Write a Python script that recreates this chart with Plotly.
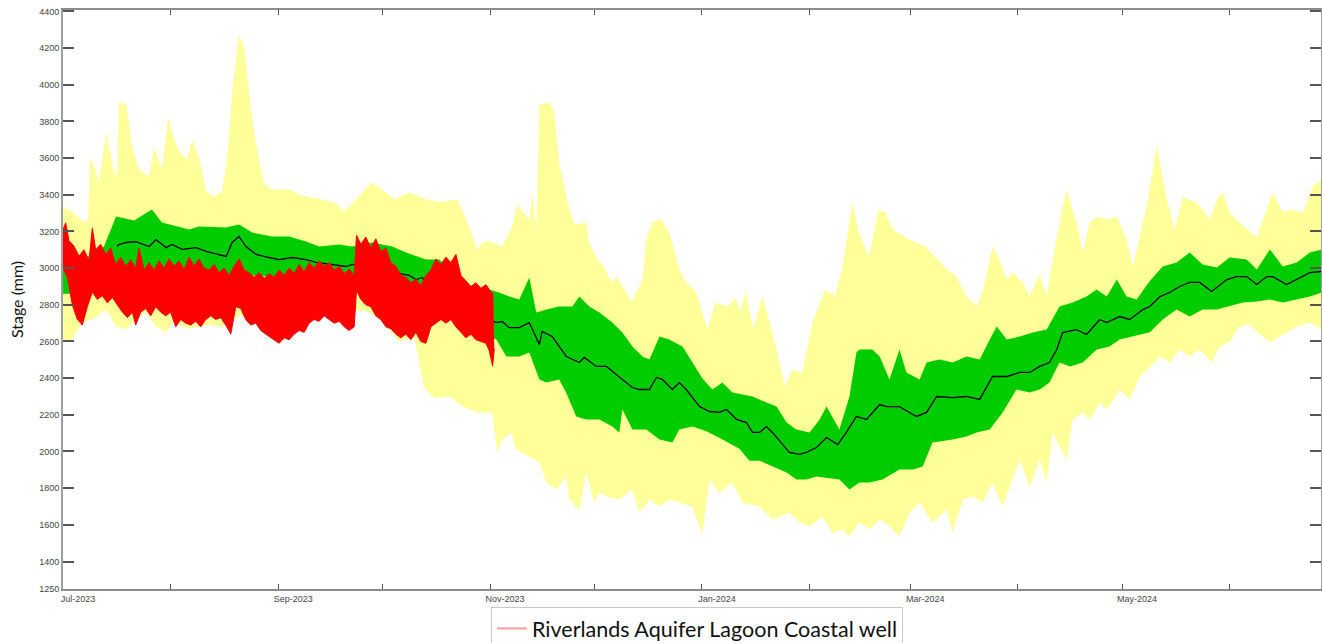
import pandas as pd
import plotly.graph_objects as go

# ---------------- data (days since 2023-07-01, stage in mm) ----------------
START = "2023-07-01"

yu_days = [0, 3.2, 6.1, 7.2, 7.8, 8.9, 10.4, 12.4, 14.7, 15.6, 16.1, 18.2, 19.9, 21.9, 23.3, 24.8, 26.2, 28.5,
           30.3, 31.4, 33.4, 35.7, 37.2, 39.2, 41.2, 43.5, 45.8, 47.3, 48.7, 50.7, 52.2, 54.2, 55.9, 57.9, 59.9,
           65.1, 68.0, 73.8, 78.1, 81.0, 84.7, 88.8, 92.5, 95.4, 99.7, 104.0, 108.4, 113.5, 116.4, 119.3, 121.3,
           123.6, 126.5, 129.4, 130.8, 132.3, 134.3, 135.2, 136.3, 137.2, 140.1, 141.5, 142.9, 145.8, 147.3,
           150.7, 151.6, 153.9, 155.3, 158.2, 159.4, 162.2, 163.7, 165.1, 166.9, 168.0, 169.7, 172.3, 174.6,
           177.5, 179.5, 182.4, 185.6, 187.9, 191.6, 193.7, 195.0, 196.5, 198.8, 201.4, 204.3, 207.9, 210.0,
           212.9, 215.8, 219.5, 222.4, 224.5, 227.4, 229.1, 232.1, 234.9, 236.9, 238.9, 243.5, 248.4, 254.5,
           257.3, 260.2, 263.1, 264.8, 267.7, 269.7, 271.8, 273.5, 276.4, 278.4, 281.3, 283.3, 286.2, 289.0,
           291.9, 293.7, 295.7, 297.7, 300.6, 303.5, 306.3, 308.1, 310.1, 312.1, 315.0, 317.9, 320.2, 322.5,
           326.5, 330.3, 332.3, 334.0, 336.0, 338.9, 343.8, 348.4, 351.3, 354.2, 357.1, 359.9, 362.5]
yu_vals = [3340, 3300, 3250, 3260, 3600, 3560, 3473, 3740, 3520, 3500, 3903, 3893, 3664, 3538, 3520, 3500, 3658, 3538,
           3827, 3740, 3636, 3592, 3700, 3600, 3420, 3390, 3420, 3600, 3950, 4274, 4200, 3850, 3647, 3460, 3430,
           3429, 3400, 3375, 3360, 3310, 3380, 3467, 3420, 3375, 3413, 3380, 3360, 3375, 3250, 3100, 3150,
           3140, 3118, 3227, 3347, 3309, 3265, 3402, 3200, 3893, 3903, 3849, 3576, 3320, 3238,
           3249, 3140, 3047, 3020, 2922, 2954, 2867, 2812, 2867, 2938, 3156, 3254, 3265, 3194,
           2993, 2922, 2867, 2665, 2812, 2791, 2840, 2758, 2873, 2665, 2845, 2649, 2355, 2447,
           2431, 2703, 2884, 2845, 3009, 3358, 3194, 3064, 3320, 3303, 3211, 3156, 3118, 2993,
           2954, 2845, 2791, 2867, 3118, 3047, 2938, 2976, 2922, 2845, 2965, 2845, 3173, 3429,
           3249, 3085, 3249, 3282, 3265, 3282, 3156, 3009, 3173, 3336, 3670, 3375, 3211, 3385,
           3358, 3265, 3375, 3413, 3303, 3249, 3167, 3413, 3303, 3320, 3303, 3445, 3484]

yl_days = [0, 2.6, 5.5, 8.4, 12.4, 15.3, 18.2, 21.0, 23.9, 26.8, 29.7, 31.4, 36.3, 42.1, 46.4, 50.7, 55.0, 59.4,
           65.1, 70.9, 74.6, 79.5, 83.9, 88.2, 92.5, 96.8, 101.2, 104.0, 106.9, 111.2, 115.6, 119.9, 123.6, 125.1,
           126.5, 129.1, 130.5, 134.3, 137.2, 139.2, 142.1, 145.0, 145.8, 148.7, 150.7, 153.0, 154.5, 156.5,
           160.2, 164.0, 166.0, 168.9, 171.8, 174.6, 177.5, 181.3, 184.1, 186.2, 189.0, 192.8, 195.7, 200.6,
           204.3, 209.2, 212.1, 215.0, 218.7, 221.6, 224.5, 226.5, 229.4, 232.3, 235.2, 238.0, 240.9, 243.8,
           246.7, 250.4, 254.5, 256.2, 259.1, 262.0, 264.8, 267.7, 270.6, 273.5, 275.5, 278.4, 281.3, 283.3,
           285.0, 289.0, 290.8, 293.7, 295.7, 298.6, 300.6, 304.3, 307.2, 310.1, 313.0, 315.9, 318.7, 321.6,
           324.5, 327.4, 330.8, 333.1, 336.0, 338.9, 341.8, 344.7, 347.6, 351.3, 355.3, 359.1, 362.5]
yl_vals = [2595, 2611, 2703, 2720, 2774, 2682, 2665, 2720, 2758, 2682, 2649, 2703, 2670, 2690, 2680, 2740, 2720, 2680,
           2700, 2740, 2758, 2700, 2774, 2760, 2700, 2600, 2620, 2350, 2290, 2300, 2240, 2213, 2213, 1995,
           2065, 2104, 2011, 1973, 1940, 1831, 1793, 1864, 1738, 1684, 1886, 1722, 1776, 1755,
           1738, 1793, 1667, 1738, 1700, 1738, 1722, 1700, 1545, 1847, 1776, 1831, 1722, 1700,
           1629, 1667, 1613, 1591, 1645, 1558, 1575, 1536, 1613, 1575, 1629, 1591, 1536, 1667,
           1722, 1613, 1684, 1558, 1738, 1755, 1722, 1831, 1700, 1847, 1956, 1809, 1956, 1831,
           2104, 1956, 2175, 2213, 2175, 2267, 2229, 2338, 2284, 2409, 2460, 2518, 2485, 2556,
           2518, 2556, 2485, 2573, 2600, 2682, 2693, 2638, 2595, 2638, 2682, 2703, 2665]

gu_days = [0, 4.6, 8.9, 11.8, 15.3, 20.5, 25.6, 28.5, 36.3, 39.2, 47.0, 50.7, 54.5, 60.2, 65.1, 70.0, 73.8, 79.5,
           83.3, 89.0, 94.8, 98.8, 104.6, 108.4, 114.1, 117.9, 122.8, 125.6, 128.5, 131.4, 134.3, 136.3, 139.2,
           142.9, 146.7, 148.7, 151.6, 154.5, 158.2, 161.1, 164.0, 166.9, 168.9, 171.8, 174.6, 178.4, 181.3,
           184.1, 187.0, 189.9, 192.8, 195.7, 198.6, 202.6, 205.5, 208.4, 211.2, 215.0, 217.9, 219.9, 221.6,
           223.6, 226.5, 228.5, 229.4, 233.1, 235.2, 238.0, 240.9, 242.9, 246.7, 248.7, 252.4, 256.2, 260.2,
           264.0, 266.9, 268.9, 271.8, 275.5, 279.3, 283.3, 287.0, 290.8, 294.8, 297.7, 300.6, 303.5, 306.3,
           309.2, 313.0, 316.7, 320.7, 324.5, 328.2, 332.3, 336.0, 340.9, 343.8, 347.6, 351.3, 355.3, 359.1, 362.5]
gu_vals = [3050, 3040, 3080, 3118, 3282, 3260, 3320, 3249, 3211, 3227, 3222, 3238, 3194, 3173, 3173, 3145, 3118, 3129,
           3118, 3140, 3118, 3085, 3047, 3047, 2938, 2900, 2884, 2867, 2845, 2829, 2949, 2758, 2774,
           2791, 2791, 2845, 2791, 2758, 2703, 2649, 2573, 2518, 2502, 2627, 2611, 2573, 2485,
           2400, 2338, 2376, 2322, 2311, 2300, 2267, 2245, 2158, 2120, 2104, 2175, 2245, 2191,
           2120, 2300, 2540, 2556, 2556, 2518, 2393, 2556, 2431, 2393, 2485, 2502, 2485, 2518,
           2502, 2611, 2682, 2611, 2627, 2649, 2665, 2791, 2812, 2845, 2884, 2845, 2938, 2845,
           2829, 2930, 3009, 3031, 3085, 3020, 3004, 3058, 3047, 2993, 3102, 3009, 3031, 3085, 3102]

gl_days = [0, 3.2, 7.5, 13.3, 24.8, 39.2, 53.6, 65.1, 76.7, 88.2, 99.7, 108.4, 117.9, 124.8, 127.7, 131.4, 134.3,
           137.2, 139.2, 142.9, 144.9, 147.8, 150.7, 154.5, 158.2, 160.2, 161.1, 164.0, 168.0, 171.8, 175.5,
           177.5, 181.3, 185.3, 189.0, 194.8, 197.7, 200.6, 204.3, 208.4, 211.2, 214.1, 217.0, 219.9, 223.6,
           226.5, 229.4, 232.3, 236.0, 240.9, 244.7, 247.6, 250.4, 256.2, 260.2, 263.1, 266.9, 270.6, 274.6,
           278.4, 281.3, 284.1, 287.0, 290.0, 293.7, 297.7, 301.4, 304.3, 308.1, 313.0, 316.7, 320.7, 324.5,
           328.2, 332.3, 336.0, 339.8, 343.8, 347.6, 351.3, 355.3, 359.1, 362.5]
gl_vals = [2860, 2860, 2900, 2960, 2980, 2980, 2960, 2950, 2940, 2900, 2830, 2791, 2665, 2611, 2518, 2518, 2540,
           2393, 2376, 2393, 2322, 2191, 2175, 2175, 2136, 2104, 2229, 2120, 2120, 2065, 2049,
           2120, 2136, 2110, 2075, 2015, 1950, 1950, 1918, 1886, 1847, 1847, 1864, 1858, 1847,
           1793, 1831, 1831, 1847, 1902, 1902, 1918, 2049, 2065, 2082, 2104, 2120, 2213, 2338,
           2322, 2338, 2376, 2485, 2464, 2485, 2556, 2573, 2611, 2627, 2650, 2720, 2774, 2736,
           2774, 2774, 2791, 2812, 2818, 2829, 2812, 2829, 2845, 2867]

med_days = [15.6, 16.1, 18.2, 21.0, 24.8, 26.8, 29.7, 31.4, 34.3, 38.3, 41.2, 45.0, 47.0, 48.7, 50.7, 52.7, 55.6,
            59.4, 62.2, 66.0, 70.0, 72.9, 77.5, 81.6, 83.3, 91.1, 99.7, 101.7, 103.5, 105.5, 114.1, 124.8, 126.5,
            128.5, 131.4, 134.3, 137.2, 138.0, 140.9, 145.0, 148.7, 150.1, 153.6, 156.5, 158.2, 161.1, 164.0,
            166.0, 168.9, 170.9, 172.6, 175.5, 177.5, 179.5, 183.3, 186.2, 189.0, 191.1, 194.0, 196.8, 198.6,
            200.6, 202.6, 204.3, 209.2, 212.1, 214.1, 217.0, 219.9, 223.1, 225.6, 228.5, 231.4, 235.2, 237.2,
            240.9, 245.8, 248.7, 251.6, 256.2, 260.2, 264.0, 267.7, 271.8, 275.5, 278.4, 281.3, 284.1, 286.2,
            287.9, 291.9, 294.8, 298.6, 300.6, 304.3, 307.2, 311.0, 313.0, 315.9, 318.7, 321.6, 324.5, 327.4,
            330.8, 335.2, 338.0, 340.9, 343.8, 346.7, 348.4, 352.4, 355.3, 359.1, 362.5]
med_vals = [3118, 3129, 3140, 3145, 3118, 3156, 3112, 3129, 3102, 3112, 3091, 3075, 3064, 3140, 3173, 3118, 3075,
            3058, 3047, 3058, 3047, 3031, 3020, 3009, 3020, 2990, 2960, 2938, 2949, 2884, 2800, 2703, 2709,
            2676, 2676, 2703, 2584, 2655, 2627, 2518, 2485, 2513, 2464, 2464, 2436, 2393, 2349,
            2338, 2338, 2404, 2393, 2338, 2376, 2338, 2245, 2218, 2213, 2229, 2175, 2158, 2104,
            2104, 2136, 2104, 1995, 1984, 1995, 2022, 2076, 2038, 2104, 2191, 2175, 2256, 2245,
            2245, 2191, 2213, 2300, 2294, 2300, 2284, 2409, 2409, 2431, 2431, 2464, 2485, 2556,
            2649, 2665, 2638, 2720, 2703, 2736, 2720, 2774, 2791, 2845, 2867, 2900, 2922, 2922,
            2873, 2938, 2954, 2954, 2911, 2954, 2954, 2911, 2938, 2976, 2982]

# observed well record: upper and lower edges of the dense tidal trace
obs_hi_days = [0.0, 0.77, 1.73, 3.17, 4.61, 6.05, 7.49, 8.45, 9.41, 10.85, 12.30, 13.74, 15.18, 16.62, 18.06, 19.50,
               20.94, 21.90, 23.34, 24.78, 26.22, 27.67, 29.11, 30.55, 31.99, 33.43, 34.87, 36.31, 37.75, 39.19,
               40.63, 42.07, 43.52, 44.96, 46.40, 47.84, 49.28, 50.72, 52.16, 53.60, 55.04, 56.48, 57.93, 59.37,
               60.81, 62.25, 63.69, 65.13, 66.57, 68.01, 69.45, 70.89, 72.33, 73.77, 75.22, 76.66, 78.10, 79.54,
               80.98, 82.42, 83.86, 84.53, 85.78, 87.22, 88.66, 90.10, 91.55, 92.99, 94.43, 95.87, 97.31, 98.75,
               100.19, 101.63, 103.07, 104.51, 105.95, 107.40, 108.84, 110.28, 111.72, 113.16, 114.60, 116.04,
               117.48, 118.92, 120.36, 121.80, 123.25, 123.92]
obs_hi_vals = [3211, 3247, 3150, 3120, 3065, 3100, 3040, 3220, 3100, 3130, 3075, 3110, 3020, 3060, 3010, 3045,
               3000, 3110, 2990, 3030, 2990, 3040, 3000, 3050, 3010, 3040, 2990, 3060, 3010, 3050,
               3000, 2990, 3020, 2975, 3000, 2960, 3010, 3050, 2990, 2975, 2950, 2975, 2945, 2970,
               2950, 2990, 2960, 3000, 2970, 3020, 2980, 3030, 3000, 3040, 3010, 3030, 2990, 3010,
               2970, 2995, 2960, 3180, 3130, 3170, 3110, 3160, 3090, 3110, 3030, 3010, 2960, 2950,
               2920, 2940, 2905, 2960, 2990, 3050, 3020, 3060, 3030, 3075, 2960, 2930,
               2900, 2920, 2890, 2910, 2870, 2860]
obs_lo_days = [0.0, 1.25, 2.69, 4.13, 5.57, 7.01, 8.45, 9.89, 11.34, 12.78, 14.22, 15.66, 17.10, 18.54, 19.98,
               20.94, 22.38, 23.82, 25.26, 26.70, 28.15, 29.59, 31.03, 32.47, 33.91, 35.35, 36.79, 38.23, 39.67,
               41.11, 42.56, 44.00, 45.44, 46.88, 48.32, 49.76, 51.20, 52.64, 54.08, 55.52, 56.96, 58.41, 59.85,
               61.29, 62.25, 63.69, 65.13, 66.57, 68.01, 69.45, 70.89, 72.33, 73.77, 75.22, 76.66, 78.10, 79.54,
               80.98, 82.42, 83.86, 84.53, 85.78, 87.22, 88.66, 90.10, 91.55, 92.99, 94.43, 95.87, 97.31, 98.75,
               100.19, 101.63, 103.07, 104.51, 105.95, 107.40, 108.84, 110.28, 111.72, 113.16, 114.60, 116.04,
               117.48, 118.92, 120.36, 121.80, 122.77, 123.73, 124.21]
obs_lo_vals = [3000, 2950, 2800, 2720, 2690, 2790, 2870, 2830, 2850, 2810, 2840, 2800, 2760, 2730, 2760,
               2690, 2760, 2780, 2740, 2790, 2760, 2740, 2760, 2680, 2720, 2700, 2690, 2710, 2680,
               2720, 2740, 2720, 2730, 2690, 2640, 2790, 2780, 2720, 2690, 2700, 2660, 2640, 2620,
               2600, 2590, 2620, 2610, 2640, 2660, 2650, 2700, 2720, 2710, 2740, 2720, 2700, 2710,
               2680, 2660, 2680, 2880, 2830, 2800, 2790, 2740, 2720, 2680, 2670, 2640, 2620, 2640,
               2610, 2650, 2600, 2590, 2680, 2700, 2720, 2700, 2720, 2680, 2650, 2620,
               2640, 2610, 2600, 2590, 2550, 2465, 2560]

y_ticks = [1250, 1400, 1600, 1800, 2000, 2200, 2400, 2600, 2800, 3000, 3200, 3400, 3600, 3800, 4000, 4200, 4400]
series_name = "Riverlands Aquifer Lagoon Coastal well"

# ---------------- figure ----------------
start = pd.Timestamp(START)


def to_dates(days):
    return [start + pd.Timedelta(days=d) for d in days]


YELLOW = "#FFFF99"
GREEN = "#00CC00"
RED = "#FF0000"

fig = go.Figure()
fig.add_trace(go.Scatter(x=to_dates(yl_days), y=yl_vals, mode="lines", line=dict(width=0, color=YELLOW),
                         showlegend=False, hoverinfo="skip"))
fig.add_trace(go.Scatter(x=to_dates(yu_days), y=yu_vals, mode="lines", line=dict(width=0, color=YELLOW),
                         fill="tonexty", fillcolor=YELLOW, showlegend=False, hoverinfo="skip"))
fig.add_trace(go.Scatter(x=to_dates(gl_days), y=gl_vals, mode="lines", line=dict(width=0, color=GREEN),
                         showlegend=False, hoverinfo="skip"))
fig.add_trace(go.Scatter(x=to_dates(gu_days), y=gu_vals, mode="lines", line=dict(width=0, color=GREEN),
                         fill="tonexty", fillcolor=GREEN, showlegend=False, hoverinfo="skip"))
fig.add_trace(go.Scatter(x=to_dates(med_days), y=med_vals, mode="lines", line=dict(width=1.3, color="black"),
                         showlegend=False))
fig.add_trace(go.Scatter(x=to_dates(obs_lo_days), y=obs_lo_vals, mode="lines", line=dict(width=1, color=RED),
                         showlegend=False, name=series_name))
fig.add_trace(go.Scatter(x=to_dates(obs_hi_days), y=obs_hi_vals, mode="lines", line=dict(width=1, color=RED),
                         fill="tonexty", fillcolor=RED, showlegend=False, name=series_name))
fig.add_trace(go.Scatter(x=[None], y=[None], mode="lines", line=dict(width=2, color="#FF9A9A"),
                         name=series_name, showlegend=True))

fig.update_layout(
    width=1322, height=643,
    margin=dict(l=63, r=1, t=10, b=54, autoexpand=False),
    paper_bgcolor="white", plot_bgcolor="white",
    font=dict(family="Liberation Sans, Arial, sans-serif", color="#333333"),
    showlegend=True,
    legend=dict(x=0.504, xanchor="center", y=-0.031, yanchor="top", orientation="h",
                bordercolor="#C8C8C8", borderwidth=1, bgcolor="white",
                font=dict(family="Lato, Open Sans, sans-serif", size=21.5, color="#111111")),
)

fig.update_xaxes(
    type="date",
    range=[start, start + pd.Timedelta(days=362.3)],
    tick0=START, dtick="M2", tickformat="%b-%Y",
    ticks="inside", ticklen=5, tickcolor="#555555", tickwidth=1,
    minor=dict(dtick="M1", ticks="inside", ticklen=5, tickcolor="#555555", tickwidth=1),
    tickfont=dict(size=9, color="#444444"),
    ticklabelshift=15,
    showline=True, linecolor="#8C8C8C", linewidth=2, mirror="ticks",
    showgrid=False, zeroline=False,
)
fig.update_yaxes(
    range=[1250, 4408],
    tickvals=y_ticks, ticktext=[str(v) for v in y_ticks],
    ticks="inside", ticklen=11, tickcolor="#555555", tickwidth=2,
    tickfont=dict(size=9, color="#444444"),
    showline=True, linecolor="#A0A0A0", linewidth=2, mirror="ticks",
    showgrid=False, zeroline=False,
    title=dict(text="Stage (mm)", font=dict(family="Lato, Open Sans, sans-serif", size=16, color="#111111"),
               standoff=12),
)

fig.write_html("out.html", config={"displayModeBar": False},
               post_script="document.body.style.margin='0';document.body.style.overflow='hidden';")
